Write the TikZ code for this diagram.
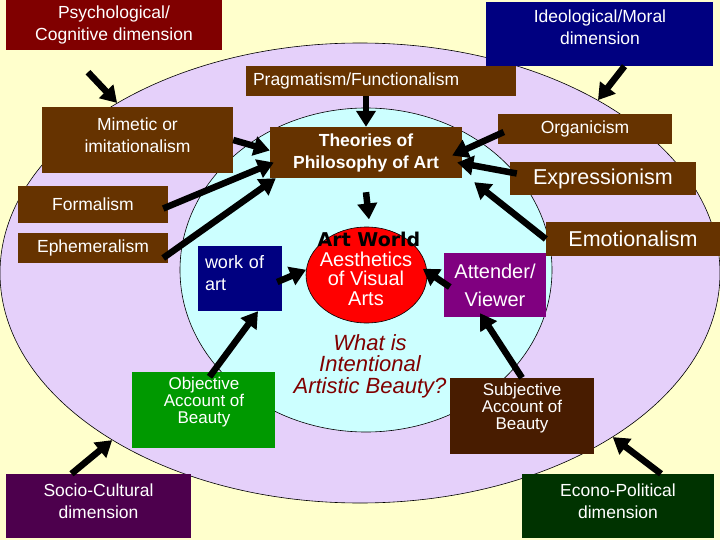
\documentclass[tikz,border=0pt]{standalone}
\usepackage{fontspec}
\setmainfont{Liberation Sans}
\newfontfamily\artfont{DejaVu Sans}
\usepackage{xcolor}
\usepackage{tikz}
\usetikzlibrary{shapes.geometric,arrows.meta}

\definecolor{paper}{RGB}{255,255,204}
\definecolor{lilac}{RGB}{229,208,250}
\definecolor{aqua}{RGB}{204,255,255}
\definecolor{bark}{RGB}{102,51,0}
\definecolor{wine}{RGB}{128,0,0}
\definecolor{ink}{RGB}{0,0,128}
\definecolor{plum}{RGB}{128,0,128}
\definecolor{leaf}{RGB}{0,153,0}
\definecolor{umber}{RGB}{72,28,0}
\definecolor{grape}{RGB}{77,0,77}
\definecolor{pine}{RGB}{0,51,0}

\begin{document}
\begin{tikzpicture}[
        x=1pt, y=-1pt,
        box/.style = {rectangle, fill=#1, inner sep=0pt, text=white, align=center, font=\fontsize{17.5}{22}\selectfont},
        words/.style = {inner sep=0pt, text=white, align=center, font=\fontsize{17.5}{22}\selectfont},
        ring/.style = {ellipse, draw=black, line width=0.6pt, inner sep=0pt, fill=#1},
        bigarrow/.style = {line width=6.5pt, -{Triangle[width=19pt,length=16pt]}}
    ]
    \useasboundingbox (0,0) rectangle (720,540);
    \fill[paper] (0,0) rectangle (720,540);
    \node[ring=lilac, minimum width=720pt, minimum height=460pt] (outer) at (360,273) {};
    \node[ring=aqua, minimum width=372pt, minimum height=324pt] (inner) at (366,270) {};
    \node[ring=red, minimum width=121pt, minimum height=96pt] (aesth) at (366.5,275) {};

    \node[box=wine, minimum width=216pt, minimum height=50pt] (psych) at (114,25) {Psychological/\\Cognitive dimension};
    \node[box=ink, minimum width=227pt, minimum height=64pt] (ideo) at (599.5,34) {};
    \node[words] (ideo-text) at (600,27) {Ideological/Moral\\dimension};
    \node[box=bark, minimum height=30pt, text width=256pt, inner xsep=7pt, align=left] (prag) at (381,81) {Pragmatism/Functionalism};
    \node[box=bark, minimum width=191pt, minimum height=66pt] (mimetic) at (137.5,140) {};
    \node[words] (mimetic-text) at (137.5,135) {Mimetic or\\imitationalism};
    \node[box=bark, minimum width=192pt, minimum height=51pt, font=\bfseries\fontsize{17.5}{22}\selectfont] (theories) at (366,152.5) {Theories of\\Philosophy of Art};
    \node[box=bark, minimum width=174pt, minimum height=30pt] (organic) at (585,129) {Organicism};
    \node[box=bark, minimum width=186pt, minimum height=33pt, font=\fontsize{21.5}{26}\selectfont] (express) at (603,178.5) {Expressionism};
    \node[box=bark, minimum width=150pt, minimum height=37pt] (formal) at (93,204.5) {Formalism};
    \node[box=bark, minimum width=150pt, minimum height=30pt] (ephem) at (93,248) {Ephemeralism};
    \node[box=bark, minimum width=174pt, minimum height=34pt, font=\fontsize{21.5}{26}\selectfont] (emotion) at (633,239) {Emotionalism};
    \node[box=ink, minimum width=84pt, minimum height=65pt] (work) at (240,278.5) {};
    \node[words, text width=70pt, align=left, font=\fontsize{18}{22}\selectfont] (work-text) at (240,273) {work of\\art};
    \node[box=plum, minimum width=102pt, minimum height=64pt, font=\fontsize{20}{28}\selectfont] (attender) at (495,285) {Attender/\\Viewer};
    \node[words, font=\fontsize{20}{19.5}\selectfont] (aesth-text) at (366,278.5) {Aesthetics\\of Visual\\Arts};
    \node[inner sep=1pt, font=\artfont\bfseries\fontsize{19}{19}\selectfont] (artworld) at (369,239) {Art World};
    \node[words, text=wine, font=\itshape\fontsize{22}{21.5}\selectfont] (question) at (370,366) {What is\\Intentional\\Artistic Beauty?};
    \node[box=leaf, minimum width=143pt, minimum height=76pt] (objective) at (203.5,410) {};
    \node[words, font=\fontsize{17}{17}\selectfont] (objective-text) at (204,402) {Objective\\Account of\\Beauty};
    \node[box=umber, minimum width=144pt, minimum height=76pt] (subjective) at (522,416) {};
    \node[words, font=\fontsize{17}{17}\selectfont] (subjective-text) at (522,408) {Subjective\\Account of\\Beauty};
    \node[box=grape, minimum width=185pt, minimum height=64pt] (socio) at (98.5,506) {};
    \node[words] (socio-text) at (98.5,501) {Socio-Cultural\\dimension};
    \node[box=pine, minimum width=192pt, minimum height=64pt] (econo) at (618,506) {};
    \node[words] (econo-text) at (618,501) {Econo-Political\\dimension};

    \draw[bigarrow] ([xshift=-26pt,yshift=-22pt]psych.south) -- (outer.145);
    \draw[bigarrow] ([xshift=25pt]ideo.south) -- (outer.36);
    \draw[bigarrow] (theories.north |- prag.south) -- (theories.north);
    \draw[bigarrow] (mimetic.east) -- ([yshift=2pt]theories.west);
    \draw[bigarrow] ([xshift=-5pt,yshift=-4pt]formal.east) -- ([xshift=4pt,yshift=-10pt]theories.west);
    \draw[bigarrow] ([xshift=-5pt,yshift=-10pt]ephem.east) -- ([xshift=6pt]theories.south west);
    \draw[bigarrow] ([xshift=6pt,yshift=-3pt]organic.west) -- ([xshift=-10pt,yshift=-3pt]theories.east);
    \draw[bigarrow] ([xshift=7pt,yshift=5pt]express.west) -- ([xshift=-5pt,yshift=-10pt]theories.east);
    \draw[bigarrow] (emotion.west) -- ([xshift=12pt,yshift=-4pt]theories.south east);
    \draw[bigarrow] ([yshift=-14pt]theories.south) -- ([yshift=11pt]artworld.north);
    \draw[bigarrow] ([xshift=-5pt,yshift=-3.5pt]work.east) -- (aesth.175);
    \draw[bigarrow] ([xshift=6pt,yshift=-2pt]attender.west) -- ([xshift=-4pt]aesth.6);
    \draw[bigarrow] ([xshift=6pt,yshift=-5pt]objective.north) -- ([xshift=18pt]work.south);
    \draw[bigarrow] (subjective.north) -- ([xshift=-15pt,yshift=4pt]attender.south);
    \draw[bigarrow] ([xshift=-27pt]socio.north) -- (outer.214);
    \draw[bigarrow] ([xshift=43pt]econo.north) -- (outer.327);
\end{tikzpicture}
\end{document}
